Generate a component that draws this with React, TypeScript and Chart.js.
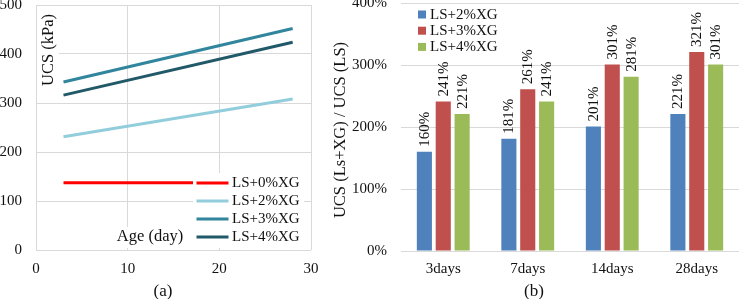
import React, { useEffect, useRef } from 'react';
import { Chart, registerables } from 'chart.js';

Chart.register(...registerables);

const FONT = '"Liberation Serif", "Times New Roman", Times, serif';
const GRID = '#d9d9d9';
const TEXT = '#111';

// ---- (a) UCS vs age ----
const ageDays = [3, 28];
const ucsLS0 = [137, 137];
const ucsLS2 = [231, 308];
const ucsLS3 = [343, 452];
const ucsLS4 = [316, 424];
const lineSeriesNames = ['LS+0%XG', 'LS+2%XG', 'LS+3%XG', 'LS+4%XG'];
const lineColors = ['#ff0000', '#92cddc', '#31859c', '#215968'];

// ---- (b) UCS ratio ----
const ageCategories = ['3days', '7days', '14days', '28days'];
const ratioLS2 = [160, 181, 201, 221];
const ratioLS3 = [241, 261, 301, 321];
const ratioLS4 = [221, 241, 281, 301];
const barSeriesNames = ['LS+2%XG', 'LS+3%XG', 'LS+4%XG'];
const barColors = ['#4f81bd', '#c0504d', '#9bbb59'];

const font = (size: number) => ({ family: FONT, size, lineHeight: 1.2 });

function LineChartA() {
  const ref = useRef<HTMLCanvasElement>(null);
  useEffect(() => {
    const series = [ucsLS0, ucsLS2, ucsLS3, ucsLS4];
    const overlay = {
      id: 'overlayA',
      afterDatasetsDraw(chart: any) {
        const { ctx, chartArea: ca } = chart;
        ctx.save();
        // white boxes
        ctx.fillStyle = '#fff';
        ctx.fillRect(ca.left + 1, ca.top + 3, 22, 89);
        ctx.fillRect(ca.left + 77, ca.bottom - 23, 76, 21);
        ctx.fillRect(ca.left + 157, ca.bottom - 77, 111, 75);
        // in-plot titles
        ctx.fillStyle = TEXT;
        ctx.font = `16.5px ${FONT}`;
        ctx.textAlign = 'center';
        ctx.textBaseline = 'middle';
        ctx.save();
        ctx.translate(ca.left + 12.5, ca.top + 45);
        ctx.rotate(-Math.PI / 2);
        ctx.fillText('UCS (kPa)', 0, 0);
        ctx.restore();
        ctx.fillText('Age (day)', ca.left + 114, ca.bottom - 13);
        // legend
        chart.data.datasets.forEach((ds: any, i: number) => {
          const y = ca.bottom - 67 + i * 18;
          ctx.strokeStyle = ds.borderColor;
          ctx.lineWidth = 3;
          ctx.beginPath();
          ctx.moveTo(ca.left + 160.5, y);
          ctx.lineTo(ca.left + 192.5, y);
          ctx.stroke();
          ctx.fillStyle = TEXT;
          ctx.font = `15px ${FONT}`;
          ctx.textAlign = 'left';
          ctx.fillText(ds.label, ca.left + 196, y + 0.5);
        });
        ctx.restore();
      },
      afterDraw(chart: any) {
        const { ctx } = chart;
        ctx.save();
        ctx.fillStyle = TEXT;
        ctx.font = `17px ${FONT}`;
        ctx.textAlign = 'center';
        ctx.textBaseline = 'middle';
        ctx.fillText('(a)', 163, 291.5);
        ctx.restore();
      },
    };
    const chart = new Chart(ref.current!, {
      type: 'line',
      data: {
        datasets: series.map((s, i) => ({
          label: lineSeriesNames[i],
          data: ageDays.map((d, j) => ({ x: d, y: s[j] })),
          borderColor: lineColors[i],
          backgroundColor: lineColors[i],
          borderWidth: 3,
          pointRadius: 0,
          tension: 0,
          fill: false,
        })),
      },
      options: {
        animation: false,
        responsive: false,
        devicePixelRatio: 1,
        layout: { padding: { left: 0, right: 14, top: 5, bottom: 0 } },
        plugins: { legend: { display: false }, tooltip: { enabled: false } },
        scales: {
          x: {
            type: 'linear',
            min: 0,
            max: 30,
            ticks: { stepSize: 10, font: font(15), color: TEXT, padding: 10 },
            grid: { color: GRID, drawTicks: false },
            border: { display: false },
            afterFit(scale: any) {
              scale.height = 49;
              scale.paddingLeft = 0;
              scale.paddingRight = 0;
            },
          },
          y: {
            min: 0,
            max: 500,
            ticks: { stepSize: 100, font: font(15), color: TEXT, padding: 14 },
            grid: { color: GRID, drawTicks: false },
            border: { display: false },
            afterFit(scale: any) {
              scale.width = 36;
              scale.paddingTop = 0;
              scale.paddingBottom = 0;
            },
          },
        },
      },
      plugins: [overlay],
    } as any);
    return () => chart.destroy();
  }, []);
  return <canvas ref={ref} width={325} height={299} style={{ display: 'block' }} />;
}

function BarChartB() {
  const ref = useRef<HTMLCanvasElement>(null);
  useEffect(() => {
    const series = [ratioLS2, ratioLS3, ratioLS4];
    const overlay = {
      id: 'overlayB',
      afterDatasetsDraw(chart: any) {
        const { ctx, chartArea: ca } = chart;
        ctx.save();
        ctx.fillStyle = TEXT;
        ctx.font = `15px ${FONT}`;
        ctx.textAlign = 'left';
        ctx.textBaseline = 'middle';
        chart.data.datasets.forEach((ds: any, i: number) => {
          const meta = chart.getDatasetMeta(i);
          meta.data.forEach((bar: any, j: number) => {
            ctx.save();
            ctx.translate(bar.x + 0.5, bar.y - 5);
            ctx.rotate(-Math.PI / 2);
            ctx.fillText(`${ds.data[j]}%`, 0, 0);
            ctx.restore();
          });
        });
        // legend
        chart.data.datasets.forEach((ds: any, i: number) => {
          const y = ca.top + 11.5 + i * 16.2;
          ctx.fillStyle = ds.backgroundColor;
          ctx.fillRect(ca.left + 17, y - 4, 8, 8);
          ctx.fillStyle = TEXT;
          ctx.fillText(ds.label, ca.left + 29, y + 0.5);
        });
        ctx.restore();
      },
      afterDraw(chart: any) {
        const { ctx } = chart;
        ctx.save();
        ctx.fillStyle = TEXT;
        ctx.textAlign = 'center';
        ctx.textBaseline = 'middle';
        ctx.font = `16.5px ${FONT}`;
        ctx.save();
        ctx.translate(15.5, 130);
        ctx.rotate(-Math.PI / 2);
        ctx.fillText('UCS (Ls+XG) / UCS (LS)', 0, 0);
        ctx.restore();
        ctx.font = `17px ${FONT}`;
        ctx.fillText('(b)', 209, 291.5);
        ctx.restore();
      },
    };
    const chart = new Chart(ref.current!, {
      type: 'bar',
      data: {
        labels: ageCategories,
        datasets: series.map((s, i) => ({
          label: barSeriesNames[i],
          data: s,
          backgroundColor: barColors[i],
          borderWidth: 0,
          barPercentage: 0.8,
          categoryPercentage: 0.67,
        })),
      },
      options: {
        animation: false,
        responsive: false,
        devicePixelRatio: 1,
        layout: { padding: { left: 0, right: 1, top: 3, bottom: 0 } },
        plugins: { legend: { display: false }, tooltip: { enabled: false } },
        scales: {
          x: {
            ticks: { font: font(15), color: TEXT, padding: 9 },
            grid: { display: false, drawTicks: false },
            border: { display: false },
            afterFit(scale: any) {
              scale.height = 48;
              scale.paddingLeft = 0;
              scale.paddingRight = 0;
            },
          },
          y: {
            min: 0,
            max: 400,
            ticks: {
              stepSize: 100,
              font: font(15),
              color: TEXT,
              padding: 14,
              callback: (v: any) => `${v}%`,
            },
            grid: { color: GRID, drawTicks: false },
            border: { display: false },
            afterFit(scale: any) {
              scale.width = 76;
              scale.paddingTop = 0;
              scale.paddingBottom = 0;
            },
          },
        },
      },
      plugins: [overlay],
    } as any);
    return () => chart.destroy();
  }, []);
  return <canvas ref={ref} width={415} height={299} style={{ display: 'block' }} />;
}

export default function App() {
  return (
    <div
      style={{
        position: 'fixed',
        left: 0,
        top: 0,
        width: 740,
        height: 299,
        background: '#fff',
        overflow: 'hidden',
      }}
    >
      <div style={{ position: 'absolute', left: 0, top: 0 }}>
        <LineChartA />
      </div>
      <div style={{ position: 'absolute', left: 325, top: 0 }}>
        <BarChartB />
      </div>
    </div>
  );
}
